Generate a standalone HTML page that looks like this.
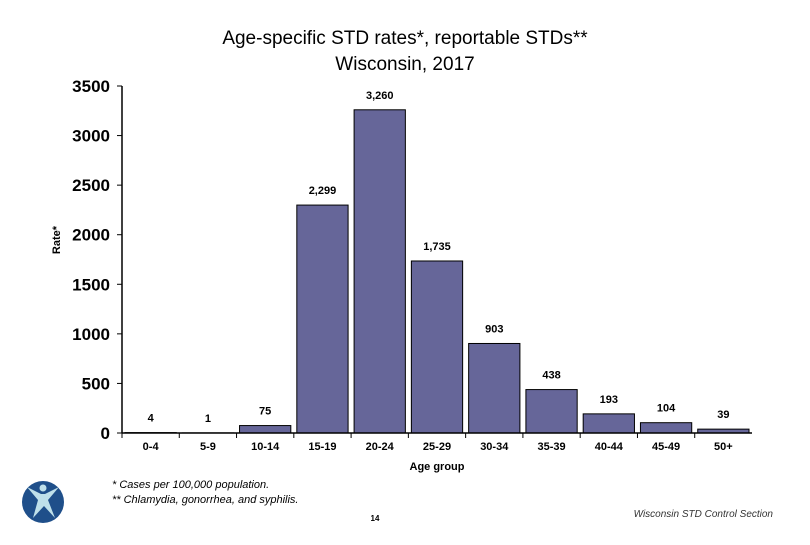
<!DOCTYPE html>
<html><head><meta charset="utf-8"><style>
body{margin:0;background:#fff;width:810px;height:540px;overflow:hidden;font-family:"Liberation Sans",Arial,sans-serif}
</style></head><body>
<svg width="810" height="540">
<text x="405" y="44" text-anchor="middle" font-size="19">Age-specific STD rates*, reportable STDs**</text>
<text x="405" y="70" text-anchor="middle" font-size="19">Wisconsin, 2017</text>
<g id="plot"></g>
<text transform="translate(60,240) rotate(-90)" text-anchor="middle" font-size="11" font-weight="bold">Rate*</text>
<text x="437" y="470" text-anchor="middle" font-size="11" font-weight="bold">Age group</text>
<text x="112" y="488" font-size="11" font-style="italic">*  Cases per 100,000 population.</text>
<text x="112" y="503" font-size="11" font-style="italic">** Chlamydia, gonorrhea, and syphilis.</text>
<text x="375" y="521" text-anchor="middle" font-size="8" font-weight="bold">14</text>
<text x="773" y="517" text-anchor="end" font-size="10" font-style="italic" fill="#333">Wisconsin STD Control Section</text>
<g>
<circle cx="43" cy="502" r="21" fill="#1f4f8a"/>
<circle cx="43" cy="488" r="3.5" fill="#bfe0ea"/>
<path d="M27 487 L41 494 L45 494 L59 487 L48 500 L55 518 L44 506 L33 518 L38 500 Z" fill="#bfe0ea"/>
</g>
</svg>
<script>
const categories=["0-4","5-9","10-14","15-19","20-24","25-29","30-34","35-39","40-44","45-49","50+"];
const rates=[4,1,75,2299,3260,1735,903,438,193,104,39];
const valueLabels=["4","1","75","2,299","3,260","1,735","903","438","193","104","39"];
const yTicks=[0,500,1000,1500,2000,2500,3000,3500];
const NS="http://www.w3.org/2000/svg";
const g=document.getElementById('plot');
const x0=122,x1=752,yBase=433,yTop=86,yMax=3500;
const bw=(x1-x0)/categories.length;
const y=v=>yBase-(v/yMax)*(yBase-yTop);
function el(t,a){const e=document.createElementNS(NS,t);for(const k in a)e.setAttribute(k,a[k]);g.appendChild(e);return e;}
yTicks.forEach(v=>{
 const tk=el('line',{x1:x0-5,x2:x0,y1:y(v),y2:y(v),stroke:'#000'});
 
 
 const t=el('text',{x:x0-12,y:y(v)+6,'text-anchor':'end','font-size':17,'font-weight':'bold'});
 t.textContent=v;
 
 
});
categories.forEach((c,i)=>{
 const bx=x0+i*bw;
 const r=el('rect',{x:bx+3,y:y(rates[i]),width:bw-6,height:yBase-y(rates[i]),fill:'#666699',stroke:'#000','stroke-width':1});
 
 
 const l=el('text',{x:bx+bw/2,y:y(rates[i])-11,'text-anchor':'middle','font-size':11,'font-weight':'bold'});
 l.textContent=valueLabels[i];
 
 
 const t=el('text',{x:bx+bw/2,y:yBase+17,'text-anchor':'middle','font-size':11,'font-weight':'bold'});
 t.textContent=c;
 
 
 const tk=el('line',{x1:bx,x2:bx,y1:yBase,y2:yBase+5,stroke:'#000'});
 
 
});
const ax=el('line',{x1:x0,x2:x0,y1:yTop,y2:yBase,stroke:'#000','stroke-width':1.5});


const bx=el('line',{x1:x0,x2:x1,y1:yBase,y2:yBase,stroke:'#000','stroke-width':1.5});


</script>
</body></html>
